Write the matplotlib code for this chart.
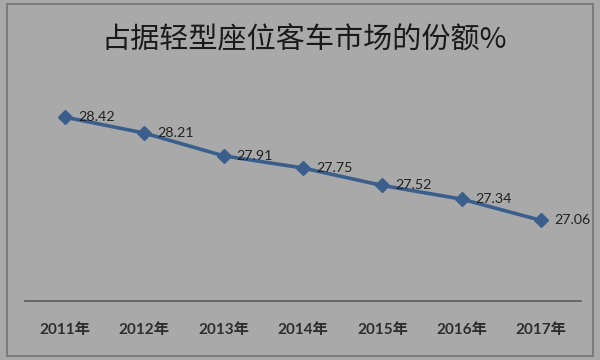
import matplotlib
matplotlib.use("Agg")
import matplotlib.pyplot as plt
from matplotlib.patches import Rectangle

plt.rcParams['font.family'] = ['Noto Sans CJK SC', 'DejaVu Sans']

title = "占据轻型座位客车市场的份额%"
years = ["2011年", "2012年", "2013年", "2014年", "2015年", "2016年", "2017年"]
shares = [28.42, 28.21, 27.91, 27.75, 27.52, 27.34, 27.06]

W, H = 600, 360
bg = '#a9a9a9'
fig = plt.figure(figsize=(W / 100, H / 100), dpi=100, facecolor=bg)

# outer frame
fig.patches.append(Rectangle((7 / W, 4 / H), 586 / W, 352 / H, transform=fig.transFigure,
                             fill=False, edgecolor='#7b7b7b', linewidth=1.5))

ax = fig.add_axes([25 / W, 59 / H, 556 / W, 228 / H])
ax.set_facecolor(bg)
x = list(range(len(years)))
ax.plot(x, shares, color='#3a5f8c', linewidth=2.6, marker='D', markersize=7.5,
        markerfacecolor='#3a5f8c', markeredgecolor='#3a5f8c')
for xi, v in zip(x, shares):
    ax.annotate(f"{v:.2f}", (xi, v), xytext=(9.5, 0), textcoords='offset points',
                ha='left', va='center', fontsize=10.3, color='#222222',
                family=['Lato', 'DejaVu Sans'], annotation_clip=False)
ax.set_xlim(-0.5, len(years) - 0.5)
ax.set_ylim(26, 29)
ax.set_xticks(x)
ax.set_xticklabels(years, fontsize=11, color='#2e2e2e', fontweight='bold',
                   family=['Lato', 'Noto Sans CJK SC'])
ax.tick_params(axis='x', length=0, pad=16)
ax.set_yticks([])
for s in ['top', 'left', 'right']:
    ax.spines[s].set_visible(False)
ax.spines['bottom'].set_color('#5a5a5a')
ax.spines['bottom'].set_linewidth(1.2)

fig.text(304 / W, 1 - 40 / H, title, ha='center', va='center', fontsize=21, color='#1a1a1a')

fig.savefig("out.png", dpi=100, facecolor=bg)
